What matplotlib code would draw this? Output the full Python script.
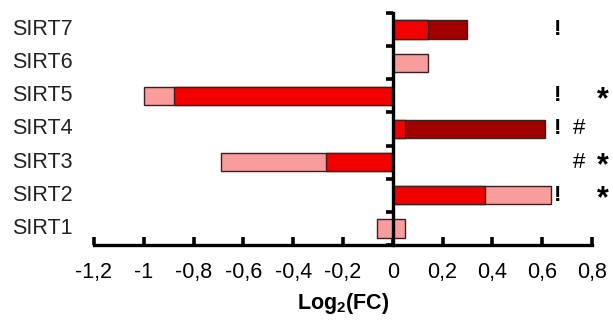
import matplotlib
matplotlib.use("Agg")
import matplotlib.pyplot as plt
import matplotlib.transforms as mtransforms
import numpy as np

plt.rcParams['font.family'] = ['Liberation Sans', 'DejaVu Sans']
plt.rcParams['mathtext.fontset'] = 'custom'
plt.rcParams['mathtext.rm'] = 'Liberation Sans'
plt.rcParams['mathtext.bf'] = 'Liberation Sans:bold'

# Genes, bottom to top
genes = ["SIRT1", "SIRT2", "SIRT3", "SIRT4", "SIRT5", "SIRT6", "SIRT7"]

# log2 fold changes per condition (0 = not shown)
light_vals = [-0.065, 0.635, -0.69, 0.0, -1.0, 0.14, 0.0]
light_vals_b = [0.05, 0.0, 0.0, 0.0, 0.0, 0.0, 0.0]
red_vals = [0.0, 0.37, -0.27, 0.05, -0.88, 0.0, 0.14]
dark_vals = [0.0, 0.0, 0.0, 0.61, 0.0, 0.0, 0.30]

# significance marks per gene
marks_excl = ["", "!", "", "!", "!", "", "!"]
marks_hash = ["", "", "#", "#", "", "", ""]
marks_star = ["", "*", "*", "", "*", "", ""]

xticks = [-1.2, -1.0, -0.8, -0.6, -0.4, -0.2, 0.0, 0.2, 0.4, 0.6, 0.8]
xticklabels = ["-1,2", "-1", "-0,8", "-0,6", "-0,4", "-0,2", "0", "0,2", "0,4", "0,6", "0,8"]

series = [
    (light_vals, "#F89C9C"),
    (light_vals_b, "#F89C9C"),
    (red_vals, "#F20000"),
    (dark_vals, "#A00000"),
]

fig = plt.figure(figsize=(6.13, 3.27), dpi=100)
ax = fig.add_axes([0.1533, 0.2508, 0.8124, 0.7095])

y = np.arange(len(genes))
bar_h = 0.55

# draw longer bars first so shorter ones sit on top
for i in range(len(genes)):
    entries = [(vals[i], col) for vals, col in series if vals[i] != 0]
    entries.sort(key=lambda e: -abs(e[0]))
    for rank, (v, col) in enumerate(entries):
        ax.barh(y[i], v, height=bar_h, color=col, edgecolor="#3a2020",
                linewidth=1.0, zorder=2 + rank)

ax.set_xlim(-1.2, 0.8)
ax.set_ylim(-0.5, len(genes) - 0.5)

# spines
for s in ["top", "right"]:
    ax.spines[s].set_visible(False)
ax.spines["left"].set_position(("data", 0))
ax.spines["left"].set_linewidth(2.4)
ax.spines["bottom"].set_linewidth(2.4)
ax.spines["left"].set_zorder(10)
ax.spines["bottom"].set_zorder(10)

ax.set_xticks(xticks)
ax.set_xticklabels(xticklabels, fontsize=15.5)
ax.tick_params(axis="x", direction="in", length=6, width=2.6, pad=12)

# boundary ticks between genes on the central axis
ax.set_yticks([])
ax.set_yticks(np.arange(-0.5, len(genes)), minor=True)
ax.tick_params(axis="y", which="minor", direction="out", length=5, width=2.6)

# gene names in a left-aligned column at the figure's left edge
label_tf = mtransforms.blended_transform_factory(fig.transFigure, ax.transData)
for i, g in enumerate(genes):
    ax.text(12 / 613, y[i], g, transform=label_tf, ha="left", va="center",
            fontsize=15.5, color="#222222", clip_on=False)

ax.set_xlabel(r"Log$_{\mathbf{2}}$(FC)", fontsize=15.5, fontweight="bold", labelpad=6)

for i in range(len(genes)):
    if marks_excl[i]:
        ax.text(0.663, y[i], marks_excl[i], ha="center", va="center",
                fontsize=16, fontweight="bold", clip_on=False)
    if marks_hash[i]:
        ax.text(0.75, y[i], marks_hash[i], ha="center", va="center",
                fontsize=16, clip_on=False)
    if marks_star[i]:
        ax.text(0.845, y[i] - 0.12, marks_star[i], ha="center", va="center",
                fontsize=22, fontweight="bold", clip_on=False)

fig.savefig("out.png", dpi=100)
